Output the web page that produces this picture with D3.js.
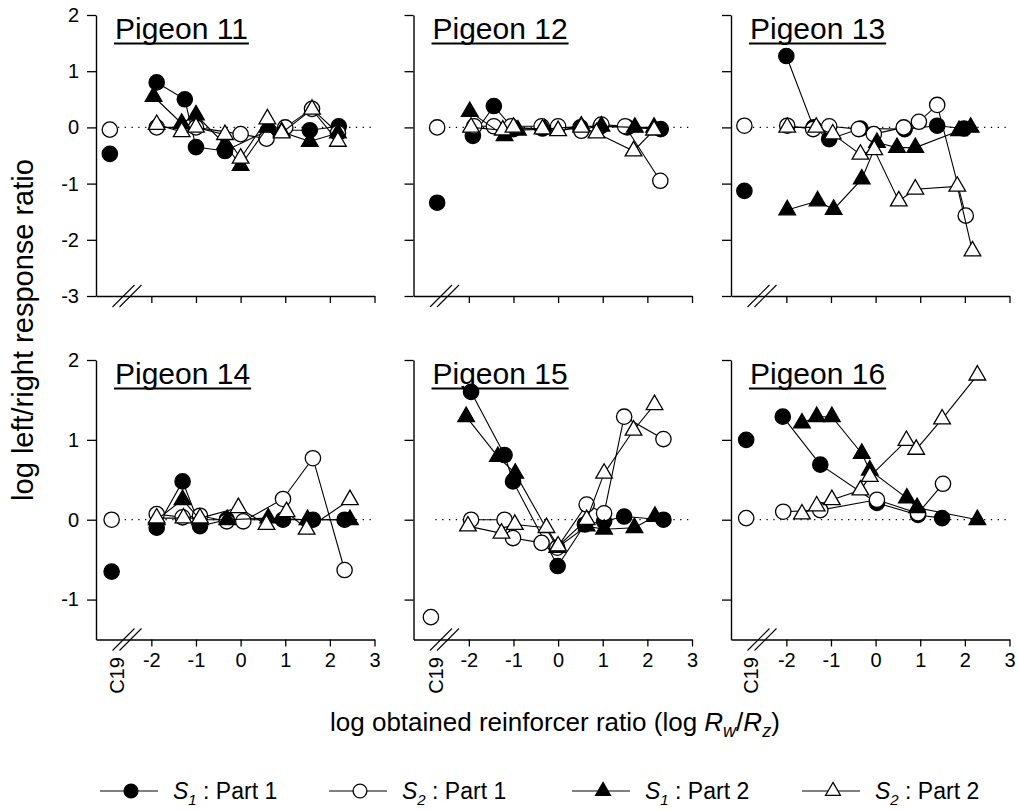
<!DOCTYPE html>
<html>
<head>
<meta charset="utf-8">
<script src="https://cdn.jsdelivr.net/npm/d3@7"></script>
<style>
  body { margin: 0; background: #fff; }
  svg { font-family: "Liberation Sans", Arial, Helvetica, sans-serif; }
</style>
</head>
<body>
<div id="chart"></div>
<script>
// panel titles
var pigeons = ["Pigeon 11", "Pigeon 12", "Pigeon 13", "Pigeon 14", "Pigeon 15", "Pigeon 16"];

// C19 (baseline condition) values, one per pigeon (null = off the axis)
var c19S1 = [-0.47, -1.34, -1.13, -0.65, null, 1.0];
var c19S2 = [-0.04, 0.0, 0.03, 0.0, -1.22, 0.02];
// where the C19 point sits, in log units left of the break
var c19Pos = [-2.93, -2.71, -2.94, -2.89, -2.85, -2.90];

// [log Rw/Rz, log L/R] pairs
var p11S1P1 = [[-1.88,0.80],[-1.25,0.50],[-1.0,-0.35],[-0.35,-0.42],[0.62,-0.05],[1.55,-0.05],[2.2,0.02]];
var p11S2P1 = [[-1.88,0.0],[-1.0,0.0],[0.0,-0.12],[0.58,-0.2],[1.0,0.0],[1.6,0.33],[2.18,-0.1]];
var p11S1P2 = [[-1.95,0.55],[-1.32,0.07],[-1.0,0.22],[-0.35,-0.3],[0.0,-0.68],[0.6,0.0],[0.92,-0.08],[1.55,-0.25],[2.18,-0.1]];
var p11S2P2 = [[-1.88,0.05],[-1.32,-0.08],[-1.0,0.0],[-0.35,-0.13],[0.0,-0.55],[0.6,0.15],[0.92,-0.1],[1.6,0.32],[2.18,-0.25]];

var p12S1P1 = [[-1.91,-0.15],[-1.44,0.38],[-1.0,-0.03],[-0.35,-0.02],[0.5,0.0],[0.95,0.02],[1.55,0.0],[2.3,-0.03]];
var p12S2P1 = [[-1.88,0.02],[-1.44,0.02],[-1.05,0.02],[-0.37,0.02],[0.0,0.02],[0.52,-0.06],[0.97,0.05],[1.5,0.02],[2.29,-0.95]];
var p12S1P2 = [[-1.98,0.28],[-1.2,-0.15],[-0.9,-0.05],[-0.3,-0.03],[0.52,0.02],[0.97,0.02],[1.72,0.0],[2.15,0.0]];
var p12S2P2 = [[-1.95,0.0],[-1.24,-0.05],[-1.0,0.0],[-0.35,-0.03],[0.0,-0.06],[0.52,0.0],[0.86,-0.1],[1.69,-0.42],[2.15,-0.05]];

var p13S1P1 = [[-2.0,1.27],[-1.39,0.0],[-1.04,-0.21],[-0.34,-0.02],[0.65,-0.03],[1.38,0.03],[1.98,-0.02]];
var p13S2P1 = [[-1.98,0.03],[-1.4,-0.03],[-1.04,0.02],[-0.38,-0.03],[-0.04,-0.12],[0.63,0.0],[0.97,0.1],[1.38,0.4],[2.02,-1.57]];
var p13S1P2 = [[-1.98,-1.47],[-1.3,-1.31],[-0.94,-1.46],[-0.31,-0.92],[0.03,-0.27],[0.48,-0.36],[0.89,-0.36],[1.87,-0.06],[2.13,0.0]];
var p13S2P2 = [[-1.98,0.0],[-1.33,0.0],[-0.96,-0.12],[-0.34,-0.48],[-0.03,-0.4],[0.52,-1.31],[0.89,-1.1],[1.83,-1.05],[2.17,-2.2]];

var p14S1P1 = [[-1.88,-0.1],[-1.3,0.48],[-0.91,-0.08],[-0.31,0.0],[0.95,0.0],[1.62,0.0],[2.33,0.0]];
var p14S2P1 = [[-1.88,0.07],[-1.3,0.03],[-0.91,0.05],[-0.31,-0.02],[0.06,-0.02],[0.95,0.26],[1.62,0.77],[2.33,-0.63]];
var p14S1P2 = [[-1.88,0.0],[-1.3,0.25],[-0.91,0.0],[-0.3,0.0],[0.62,0.02],[1.5,0.0],[2.45,0.0]];
var p14S2P2 = [[-1.88,0.02],[-1.28,0.02],[-0.91,0.02],[-0.05,0.15],[0.58,-0.06],[1.03,0.1],[1.48,-0.12],[2.45,0.25]];

var p15S1P1 = [[-1.95,1.6],[-1.2,0.81],[-1.01,0.48],[-0.01,-0.58],[0.6,-0.06],[1.03,-0.02],[1.48,0.04],[2.36,0.0]];
var p15S2P1 = [[-1.95,0.0],[-1.2,0.0],[-1.01,-0.23],[-0.37,-0.29],[-0.02,-0.35],[0.64,0.19],[1.03,0.08],[1.48,1.29],[2.36,1.01]];
var p15S1P2 = [[-2.06,1.29],[-1.35,0.79],[-0.96,0.58],[-0.02,-0.35],[0.64,-0.08],[1.03,-0.12],[1.71,-0.1],[2.17,0.04]];
var p15S2P2 = [[-2.02,-0.08],[-1.27,-0.17],[-0.97,-0.06],[-0.26,-0.1],[0.0,-0.33],[0.64,0.0],[1.03,0.58],[1.69,1.12],[2.16,1.44]];

var p16S1P1 = [[-2.08,1.29],[-1.24,0.69],[0.03,0.21],[0.95,0.06],[1.49,0.02]];
var p16S2P1 = [[-2.07,0.1],[-1.24,0.12],[0.03,0.25],[0.95,0.08],[1.51,0.45]];
var p16S1P2 = [[-1.65,1.21],[-1.32,1.29],[-0.98,1.29],[-0.31,0.83],[-0.13,0.62],[0.7,0.27],[0.93,0.15],[2.28,0.0]];
var p16S2P2 = [[-1.65,0.07],[-1.32,0.17],[-0.98,0.25],[-0.34,0.37],[-0.13,0.54],[0.69,0.99],[0.91,0.88],[1.49,1.26],[2.28,1.81]];

var allS1P1 = [p11S1P1, p12S1P1, p13S1P1, p14S1P1, p15S1P1, p16S1P1];
var allS2P1 = [p11S2P1, p12S2P1, p13S2P1, p14S2P1, p15S2P1, p16S2P1];
var allS1P2 = [p11S1P2, p12S1P2, p13S1P2, p14S1P2, p15S1P2, p16S1P2];
var allS2P2 = [p11S2P2, p12S2P2, p13S2P2, p14S2P2, p15S2P2, p16S2P2];

var xTicks = [-2, -1, 0, 1, 2, 3];
var yTicksTop = [-3, -2, -1, 0, 1, 2];
var yTicksBottom = [-1, 0, 1, 2];

var legendSub = ["1", "2", "1", "2"];
var legendPart = ["Part 1", "Part 1", "Part 2", "Part 2"];

// ---- layout ----
var W = 1018, H = 810;
var panelLeft = [96, 413.5, 731];
var panelW = 278.5;
var rows = [
    {top: 15, bottom: 296, domain: [-3, 2], ticks: yTicksTop},
    {top: 360, bottom: 639.5, domain: [-1.5, 2], ticks: yTicksBottom}
];

var minus = function (d) { return d < 0 ? "-" + Math.abs(d) : d; };

var svg = d3.select("#chart").append("svg")
    .attr("width", W)
    .attr("height", H);

// series styles: fill + symbol
var styles = [
    {data: allS1P1, fill: "#000", sym: d3.symbolCircle, size: 185},
    {data: allS2P1, fill: "#fff", sym: d3.symbolCircle, size: 185},
    {data: allS1P2, fill: "#000", sym: d3.symbolTriangle, size: 120},
    {data: allS2P2, fill: "#fff", sym: d3.symbolTriangle, size: 120}
];

for (var p = 0; p < 6; p++) {
    var col = p % 3, r = rows[Math.floor(p / 3)];
    var g = svg.append("g")
        .attr("transform", "translate(" + panelLeft[col] + ",0)");

    var x = d3.scaleLinear().domain([-3.24, 3]).range([0, panelW]);
    var y = d3.scaleLinear().domain(r.domain).range([r.bottom, r.top]);

    // zero reference line (dotted)
    g.append("line")
        .attr("x1", x(-2.75)).attr("x2", x(2.95))
        .attr("y1", y(0)).attr("y2", y(0))
        .attr("stroke", "#000").attr("stroke-width", 1.3)
        .attr("stroke-dasharray", "1.3,5.5");

    // x axis (labels only on the bottom row)
    var xAxis = g.append("g")
        .attr("transform", "translate(0," + r.bottom + ")")
        .call(d3.axisBottom(x).tickValues(xTicks).tickSize(7).tickSizeOuter(0)
            .tickFormat(p >= 3 ? minus : function () { return ""; }));
    xAxis.select(".domain").attr("stroke-width", 1.4);
    xAxis.selectAll(".tick line").attr("stroke-width", 1.3);
    xAxis.selectAll(".tick text")
        .attr("font-size", 20).attr("font-family", null)
        .attr("dy", null).attr("y", 27);

    // y axis (labels only on the left column)
    var yAxis = g.append("g")
        .call(d3.axisLeft(y).tickValues(r.ticks).tickSize(9).tickSizeOuter(0)
            .tickFormat(col === 0 ? minus : function () { return ""; }));
    yAxis.select(".domain").attr("stroke-width", 1.4);
    yAxis.selectAll(".tick line").attr("stroke-width", 1.3);
    yAxis.selectAll(".tick text")
        .attr("font-size", 20).attr("font-family", null).attr("x", -17);

    // axis break marks
    [27.5, 34.5].forEach(function (bx) {
        g.append("line")
            .attr("x1", bx - 11).attr("y1", r.bottom + 11)
            .attr("x2", bx + 11).attr("y2", r.bottom - 11)
            .attr("stroke", "#000").attr("stroke-width", 1.1);
    });

    // C19 tick label on bottom row
    if (p >= 3) {
        g.append("text")
            .attr("transform", "translate(" + (x(c19Pos[p]) + 12) + "," + (r.bottom + 36) + ") rotate(-90)")
            .attr("text-anchor", "middle")
            .attr("font-size", 20)
            .text("C19");
    }

    // title with underline
    var title = g.append("text")
        .attr("x", 19).attr("y", r.top + 24)
        .attr("font-size", 30)
        .text(pigeons[p]);
    var tw = title.node().getComputedTextLength();
    g.append("line")
        .attr("x1", 18).attr("x2", 19 + tw + 1)
        .attr("y1", r.top + 28.5).attr("y2", r.top + 28.5)
        .attr("stroke", "#000").attr("stroke-width", 2.2);

    var line = d3.line()
        .x(function (d) { return x(d[0]); })
        .y(function (d) { return y(d[1]); });

    styles.forEach(function (s) {
        var pts = s.data[p];
        g.append("path")
            .attr("d", line(pts))
            .attr("fill", "none")
            .attr("stroke", "#000")
            .attr("stroke-width", 1.1);
        g.selectAll(null)
            .data(pts)
            .enter().append("path")
            .attr("d", d3.symbol().type(s.sym).size(s.size)())
            .attr("transform", function (d) { return "translate(" + x(d[0]) + "," + y(d[1]) + ")"; })
            .attr("fill", s.fill)
            .attr("stroke", "#000")
            .attr("stroke-width", 1.3);
    });

    // C19 points
    [[c19S2[p], "#fff"], [c19S1[p], "#000"]].forEach(function (c) {
        if (c[0] === null) return;
        g.append("path")
            .attr("d", d3.symbol().type(d3.symbolCircle).size(185)())
            .attr("transform", "translate(" + x(c19Pos[p]) + "," + y(c[0]) + ")")
            .attr("fill", c[1])
            .attr("stroke", "#000")
            .attr("stroke-width", 1.3);
    });
}

// axis titles
svg.append("text")
    .attr("transform", "translate(33,330) rotate(-90)")
    .attr("text-anchor", "middle")
    .attr("font-size", 29)
    .text("log left/right response ratio");

var xl = svg.append("text")
    .attr("x", 330).attr("y", 731)
    .attr("font-size", 26);
xl.append("tspan").text("log obtained reinforcer ratio (log ");
xl.append("tspan").attr("font-style", "italic").text("R");
xl.append("tspan").attr("font-style", "italic").attr("font-size", 18).attr("dy", 6).text("w");
xl.append("tspan").attr("dy", -6).text("/");
xl.append("tspan").attr("font-style", "italic").text("R");
xl.append("tspan").attr("font-style", "italic").attr("font-size", 18).attr("dy", 6).text("z");
xl.append("tspan").attr("dy", -6).text(")");

// legend
var legendMarkX = [131, 360, 603, 833];
var legendY = 791;
styles.forEach(function (s, i) {
    var lg = svg.append("g").attr("transform", "translate(" + legendMarkX[i] + "," + legendY + ")");
    lg.append("line").attr("x1", -31).attr("x2", 27)
        .attr("stroke", "#000").attr("stroke-width", 1.1);
    lg.append("path")
        .attr("d", d3.symbol().type(s.sym).size(s.sym === d3.symbolCircle ? 150 : 95)())
        .attr("fill", s.fill).attr("stroke", "#000").attr("stroke-width", 1.3);
    var t = lg.append("text").attr("x", 42).attr("y", 8).attr("font-size", 23);
    t.append("tspan").attr("font-style", "italic").text("S");
    t.append("tspan").attr("font-style", "italic").attr("font-size", 15).attr("dy", 6).text(legendSub[i]);
    t.append("tspan").attr("dy", -6).text(" : " + legendPart[i]);
});
</script>
</body>
</html>
